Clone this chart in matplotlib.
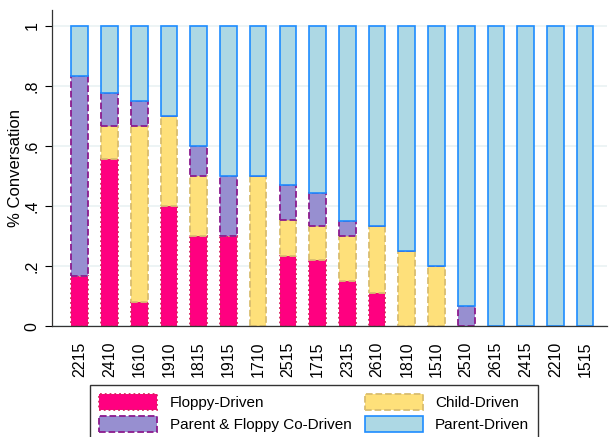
import numpy as np
import matplotlib
matplotlib.use('Agg')
import matplotlib.pyplot as plt

plt.rcParams['font.family'] = ['Liberation Sans', 'DejaVu Sans']

# conversation id and share of each driver type
convs = ['2215', '2410', '1610', '1910', '1815', '1915', '1710', '2515', '1715',
         '2315', '2610', '1810', '1510', '2510', '2615', '2415', '2210', '1515']
floppy = [0.167, 0.556, 0.083, 0.40, 0.30, 0.30, 0.0, 0.235, 0.222,
          0.15, 0.111, 0.0, 0.0, 0.0, 0.0, 0.0, 0.0, 0.0]
child = [0.0, 0.111, 0.583, 0.30, 0.20, 0.0, 0.50, 0.118, 0.111,
         0.15, 0.222, 0.25, 0.20, 0.0, 0.0, 0.0, 0.0, 0.0]
codriven = [0.667, 0.111, 0.083, 0.0, 0.10, 0.20, 0.0, 0.118, 0.111,
            0.05, 0.0, 0.0, 0.0, 0.067, 0.0, 0.0, 0.0, 0.0]
parent = [0.167, 0.222, 0.25, 0.30, 0.40, 0.50, 0.50, 0.529, 0.556,
          0.65, 0.667, 0.75, 0.80, 0.933, 1.0, 1.0, 1.0, 1.0]

fig = plt.figure(figsize=(6.09, 4.37), dpi=100)
ax = fig.add_axes([0.085, 0.253, 0.912, 0.724])

x = np.arange(len(convs))
w = 0.56
b1 = np.array(floppy)
b2 = b1 + np.array(child)
b3 = b2 + np.array(codriven)

h1 = ax.bar(x, floppy, w, color='#FF0080', edgecolor='#D8235F', linestyle=':', linewidth=1.3, label='Floppy-Driven')
h3 = ax.bar(x, child, w, bottom=b1, color='#FEE07A', edgecolor='#D9BD70', linestyle='--', linewidth=1.3, label='Child-Driven')
h2 = ax.bar(x, codriven, w, bottom=b2, color='#978FD0', edgecolor='#8B1A8E', linestyle='--', linewidth=1.3, label='Parent & Floppy Co-Driven')
h4 = ax.bar(x, parent, w, bottom=b3, color='#ADD8E4', edgecolor='#1E8CFF', linestyle='-', linewidth=1.2, label='Parent-Driven')

ax.set_xlim(-0.94, 17.74)
ax.set_ylim(0, 1.053)
ax.set_yticks([0, 0.2, 0.4, 0.6, 0.8, 1.0])
ax.set_yticklabels(['0', '.2', '.4', '.6', '.8', '1'], rotation=90, va='center', fontsize=11.5)
ax.set_xticks(x)
ax.set_xticklabels(convs, rotation=90, fontsize=11.5)
ax.tick_params(axis='x', length=0, pad=11)
ax.tick_params(axis='y', length=5, width=0.8, pad=4)
ax.set_ylabel('% Conversation', fontsize=12, labelpad=1)
ax.grid(axis='y', color='#EAF2F3', linewidth=1.2)
ax.set_axisbelow(True)
for s in ['top', 'right']:
    ax.spines[s].set_visible(False)
for s in ['left', 'bottom']:
    ax.spines[s].set_color('#333333')
    ax.spines[s].set_linewidth(0.9)

leg = fig.legend(handles=[h1, h2, h3, h4], loc='upper left', ncol=2,
                 bbox_to_anchor=(0.148, 0.0, 0.736, 0.119), bbox_transform=fig.transFigure,
                 mode='expand', fancybox=False, fontsize=11, handlelength=3.8,
                 handleheight=1.2, borderaxespad=0, columnspacing=1.0, labelspacing=0.4,
                 borderpad=0.6, handletextpad=0.8)
leg.get_frame().set_edgecolor('black')
leg.get_frame().set_linewidth(1.0)

fig.savefig('out.png', dpi=100)
